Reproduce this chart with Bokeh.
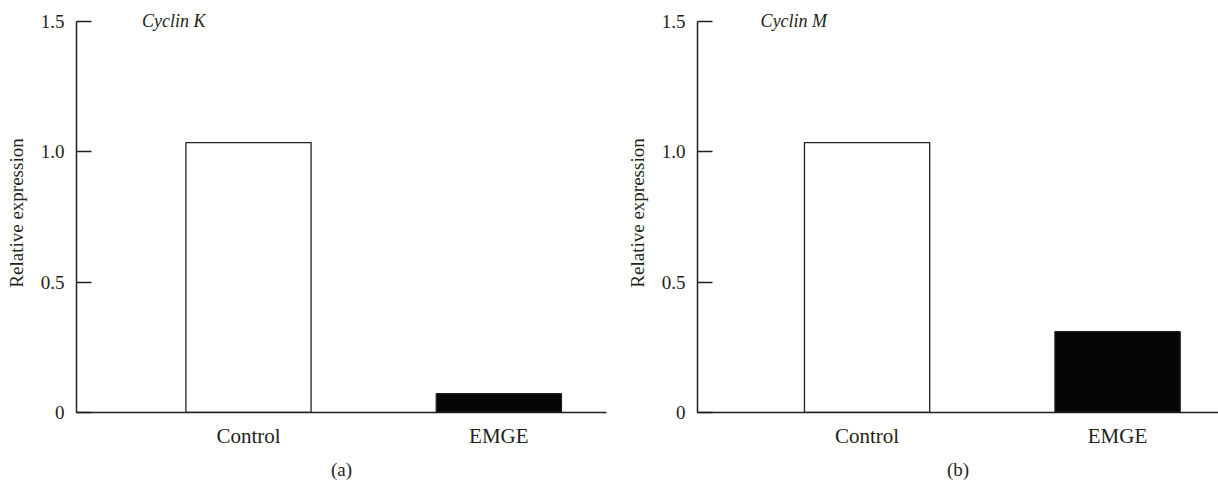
from bokeh.plotting import figure
from bokeh.layouts import row
from bokeh.models import FixedTicker, Label, ColumnDataSource
from bokeh.embed import file_html
from bokeh.resources import INLINE

categories = ["Control", "EMGE"]
cyclin_k = [1.035, 0.072]
cyclin_m = [1.035, 0.31]
y_ticks = [0, 0.5, 1.0, 1.5]
y_tick_labels = ["0", "0.5", "1.0", "1.5"]
panel_titles = ["Cyclin K", "Cyclin M"]
panel_tags = ["(a)", "(b)"]
bar_fills = ["white", "#050505"]

FONT = "Liberation Serif"
INK = "#231f20"


def make_panel(values, title, tag, width, border_left, border_right, x_start, x_end):
    p = figure(width=width, height=484, output_backend="svg", toolbar_location=None,
               x_range=(x_start, x_end), y_range=(0, 1.53),
               min_border_left=border_left, min_border_right=border_right,
               min_border_top=13, min_border_bottom=72)
    p.outline_line_color = None
    p.grid.visible = False
    p.background_fill_color = "white"
    p.border_fill_color = "white"

    xs = list(range(len(categories)))
    src = ColumnDataSource(dict(x=xs, top=values, fill=bar_fills))
    p.vbar(x="x", top="top", bottom=0, width=0.5, source=src,
           fill_color="fill", line_color=INK, line_width=1.3)

    # y axis
    ya = p.yaxis[0]
    ya.bounds = (0, 1.5)
    ya.ticker = FixedTicker(ticks=y_ticks)
    ya.major_label_overrides = {t: l for t, l in zip(y_ticks, y_tick_labels)}
    ya.minor_tick_line_color = None
    ya.major_tick_in = 15
    ya.major_tick_out = 0
    ya.major_tick_line_color = INK
    ya.major_tick_line_width = 1.5
    ya.axis_line_color = INK
    ya.axis_line_width = 1.5
    ya.major_label_standoff = 12
    ya.major_label_text_font = FONT
    ya.major_label_text_font_size = "19px"
    ya.major_label_text_color = INK
    ya.axis_label = "Relative expression"
    ya.axis_label_text_font = FONT
    ya.axis_label_text_font_size = "19px"
    ya.axis_label_text_font_style = "normal"
    ya.axis_label_text_color = INK
    ya.axis_label_standoff = 11

    # x axis
    xa = p.xaxis[0]
    xa.ticker = FixedTicker(ticks=xs)
    xa.major_label_overrides = {i: c for i, c in zip(xs, categories)}
    xa.minor_tick_line_color = None
    xa.major_tick_in = 0
    xa.major_tick_out = 0
    xa.axis_line_color = INK
    xa.axis_line_width = 1.5
    xa.major_label_standoff = 11
    xa.major_label_text_font = FONT
    xa.major_label_text_font_size = "21px"
    xa.major_label_text_color = INK
    xa.axis_label = tag
    xa.axis_label_text_font = FONT
    xa.axis_label_text_font_size = "19px"
    xa.axis_label_text_font_style = "normal"
    xa.axis_label_text_color = INK
    xa.axis_label_standoff = 8

    p.add_layout(Label(x=-0.425, y=1.5, text=title, text_font=FONT,
                       text_font_size="18px", text_font_style="italic",
                       text_color=INK, text_baseline="middle", text_align="left"))
    return p


p1 = make_panel(cyclin_k, panel_titles[0], panel_tags[0], 620, 76, 14, -0.687, 1.43)
p2 = make_panel(cyclin_m, panel_titles[1], panel_tags[1], 598, 77, 0, -0.677, 1.403)

layout = row(p1, p2)
open("out.html", "w").write(file_html(layout, INLINE))
